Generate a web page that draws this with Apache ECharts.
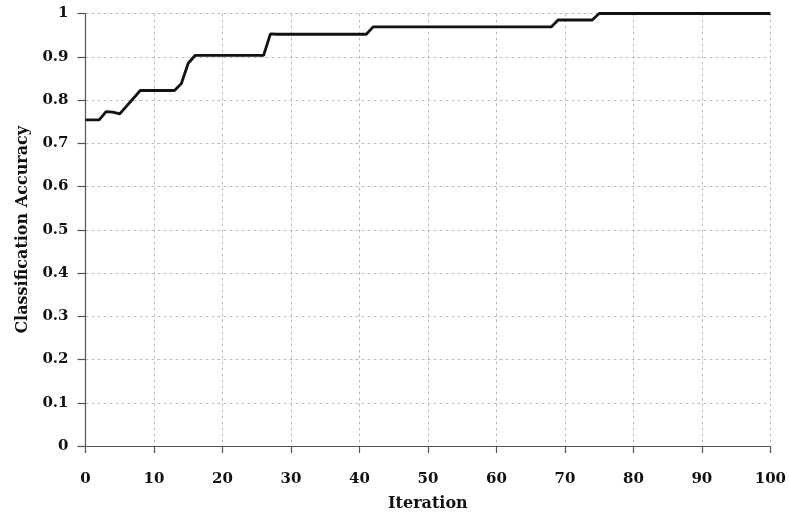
<!DOCTYPE html>
<html>
<head>
<meta charset="utf-8">
<script src="https://cdn.jsdelivr.net/npm/echarts@6/dist/echarts.min.js"></script>
<style>
html,body{margin:0;padding:0;background:#fff;}
#chart{width:789px;height:518px;}
</style>
</head>
<body>
<div id="chart"></div>
<script>
const iterations = [0, 2, 3, 4, 5, 8, 13, 14, 15, 16, 26, 27, 28, 41, 42, 68, 69, 74, 75, 100];
const accuracy   = [0.754, 0.754, 0.773, 0.772, 0.768, 0.822, 0.822, 0.838, 0.885, 0.903, 0.903, 0.953, 0.952, 0.952, 0.969, 0.969, 0.985, 0.985, 1.0, 1.0];
const xTicks = [0, 10, 20, 30, 40, 50, 60, 70, 80, 90, 100];
const yTicks = [0, 0.1, 0.2, 0.3, 0.4, 0.5, 0.6, 0.7, 0.8, 0.9, 1];

const fontFam = '"DejaVu Serif", "Liberation Serif", serif';
const chart = echarts.init(document.getElementById('chart'), null, {renderer: 'canvas'});
chart.setOption({
  backgroundColor: '#ffffff',
  animation: false,
  grid: {left: 85.5, right: 17, top: 13.5, bottom: 72, containLabel: false},
  xAxis: {
    type: 'value',
    min: xTicks[0], max: xTicks[xTicks.length - 1], interval: 10,
    name: 'Iteration',
    nameLocation: 'middle',
    nameGap: 50,
    nameTextStyle: {fontFamily: fontFam, fontWeight: 'bold', fontSize: 16, color: '#111'},
    axisLine: {lineStyle: {color: '#555', width: 1.2}},
    axisTick: {show: true, length: 7, lineStyle: {color: '#555', width: 1.2}},
    axisLabel: {margin: 26, fontFamily: fontFam, fontWeight: 'bold', fontSize: 15, color: '#111',
      formatter: v => xTicks.includes(v) ? String(v) : ''},
    splitLine: {show: true, lineStyle: {color: '#bdbdbd', type: [3, 3], width: 1}}
  },
  yAxis: {
    type: 'value',
    min: 0, max: 1, interval: 0.1,
    name: 'Classification Accuracy',
    nameLocation: 'middle',
    nameGap: 55,
    nameRotate: 90,
    nameTextStyle: {fontFamily: fontFam, fontWeight: 'bold', fontSize: 16, color: '#111'},
    axisLine: {show: true, lineStyle: {color: '#555', width: 1.2}},
    axisTick: {show: true, length: 8, lineStyle: {color: '#555', width: 1.2}},
    axisLabel: {margin: 17, fontFamily: fontFam, fontWeight: 'bold', fontSize: 15, color: '#111',
      formatter: v => { const r = Math.round(v * 10) / 10; return yTicks.includes(r) ? String(r) : ''; }},
    splitLine: {show: true, lineStyle: {color: '#bdbdbd', type: [3, 3], width: 1}}
  },
  series: [{
    type: 'line',
    data: iterations.map((x, i) => [x, accuracy[i]]),
    showSymbol: false,
    lineStyle: {color: '#111', width: 2.8},
    z: 5
  }]
});
</script>
</body>
</html>
